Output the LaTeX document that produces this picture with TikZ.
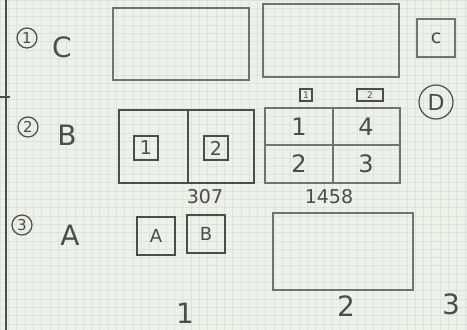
\documentclass[tikz,border=0pt]{standalone}
\usepackage{fontspec}
\setmainfont{DejaVu Sans}
\begin{document}
\begin{tikzpicture}[x=1pt,y=-1pt,
  pencil/.style={draw=penlight,line width=1.5pt},
  lbl/.style={text=pen,font=\fontsize{28}{30}\selectfont,inner sep=0pt},
  num/.style={text=pen,font=\fontsize{24}{26}\selectfont,inner sep=0pt},
  boxed/.style={draw=pen,line width=1.4pt,text=pen,inner sep=0pt,minimum width=#1,minimum height=#1},
  circ/.style={draw=pen,circle,line width=1.2pt,text=pen,font=\fontsize{15}{16}\selectfont,inner sep=1pt,minimum size=20pt}
]
\definecolor{paper}{HTML}{EEF1E8}
\definecolor{gridc}{HTML}{DAE3DE}
\definecolor{pen}{HTML}{4C4C4A}
\definecolor{penlight}{HTML}{727270}
\fill[paper] (0,0) rectangle (467,330);
\useasboundingbox (0,0) rectangle (467,330);
\foreach \i in {0,...,56} {\draw[gridc,line width=0.4pt] (\i*8.3,0) -- (\i*8.3,330);}
\foreach \j in {0,...,40} {\draw[gridc,line width=0.4pt] (0,\j*8.3) -- (467,\j*8.3);}
% left margin line
\draw[pen,line width=1.3pt] (6,0) -- (6,330);
\draw[pen,line width=1.3pt] (0,97) -- (10,97);
% row labels
\node[circ] (c1) at (27,38) {1};
\node[lbl] (lc) at (62,47) {C};
\node[circ] (c2) at (28,127) {2};
\node[lbl] (lb) at (67,135) {B};
\node[circ] (c3) at (22,225) {3};
\node[lbl] (la) at (70,235) {A};
% row 1
\draw[pencil] (113,8) rectangle (249,80);
\draw[pencil] (263,4) rectangle (399,77);
\node[boxed=38pt,draw=penlight,font=\fontsize{19}{20}\selectfont] (bc) at (436,38) {c};
% row 2
\draw[pencil,draw=pen] (119,110) rectangle (254,183);
\draw[pencil,draw=pen] (188,110) -- (188,183);
\node[boxed=24pt,font=\fontsize{19}{20}\selectfont] (b1) at (146,148) {1};
\node[boxed=24pt,font=\fontsize{19}{20}\selectfont] (b2) at (216,148) {2};
\draw[pencil] (265,108) rectangle (400,183);
\draw[pencil] (265,145) -- (400,145);
\draw[pencil] (333,108) -- (333,183);
\node[num] (g1) at (299,127) {1};
\node[num] (g4) at (366,127) {4};
\node[num] (g2) at (299,164) {2};
\node[num] (g3) at (366,164) {3};
\node[boxed=12pt,font=\fontsize{9}{10}\selectfont] (s1) at (306,95) {1};
\node[draw=pen,line width=1.4pt,text=pen,minimum width=26pt,minimum height=12pt,inner sep=0pt,font=\fontsize{9}{10}\selectfont] (s2) at (370,95) {2};
\node[circ,minimum size=34pt,font=\fontsize{22}{24}\selectfont] (cd) at (436,102) {D};
\node[num,font=\fontsize{19}{20}\selectfont] (n307) at (205,197) {307};
\node[num,font=\fontsize{19}{20}\selectfont] (n1458) at (329,197) {1458};
% row 3
\node[boxed=38pt,font=\fontsize{18}{19}\selectfont] (ba) at (156,236) {A};
\node[boxed=38pt,font=\fontsize{18}{19}\selectfont] (bb) at (206,234) {B};
\draw[pencil] (273,213) rectangle (413,290);
% column labels
\node[lbl] (k1) at (185,313) {1};
\node[lbl] (k2) at (346,306) {2};
\node[lbl] (k3) at (451,304) {3};
\end{tikzpicture}
\end{document}
